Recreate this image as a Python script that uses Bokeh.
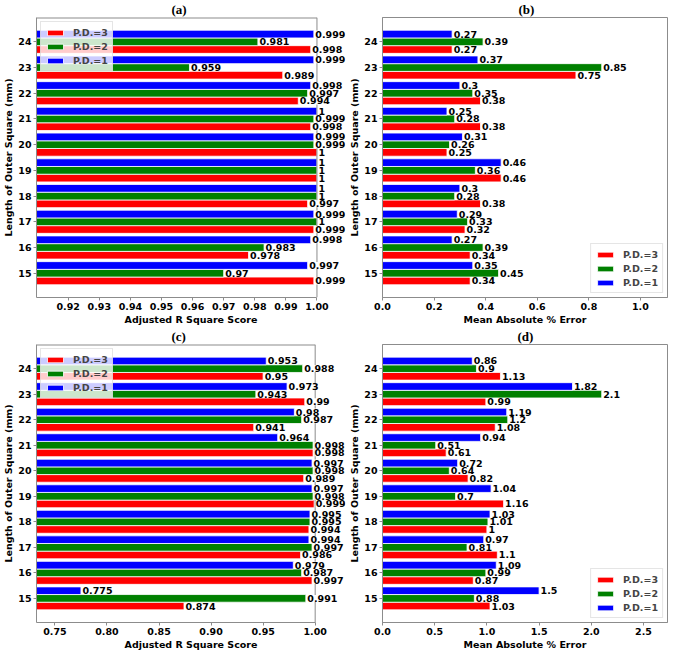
from bokeh.plotting import figure
from bokeh.models import (ColumnDataSource, Range1d, FixedTicker, LabelSet,
                          Legend, LegendItem, NumeralTickFormatter)
from bokeh.core.properties import value
from bokeh.layouts import column, row
from bokeh.embed import file_html
from bokeh.resources import INLINE

# ---------------- data ----------------
categories = [15, 16, 17, 18, 19, 20, 21, 22, 23, 24]
series_names = ["P.D.=3", "P.D.=2", "P.D.=1"]
series_colors = ["#ff0000", "#008000", "#0000ff"]

# (a) Adjusted R Square Score
a_pd3 = [0.999, 0.978, 0.999, 0.997, 1, 1, 0.998, 0.994, 0.989, 0.998]
a_pd2 = [0.97, 0.983, 1, 1, 1, 0.999, 0.999, 0.997, 0.959, 0.981]
a_pd1 = [0.997, 0.998, 0.999, 1, 1, 0.999, 1, 0.998, 0.999, 0.999]

# (b) Mean Absolute % Error
b_pd3 = [0.34, 0.34, 0.32, 0.38, 0.46, 0.25, 0.38, 0.38, 0.75, 0.27]
b_pd2 = [0.45, 0.39, 0.33, 0.28, 0.36, 0.26, 0.28, 0.35, 0.85, 0.39]
b_pd1 = [0.35, 0.27, 0.29, 0.3, 0.46, 0.31, 0.25, 0.3, 0.37, 0.27]

# (c) Adjusted R Square Score
c_pd3 = [0.874, 0.997, 0.986, 0.994, 0.999, 0.989, 0.998, 0.941, 0.99, 0.95]
c_pd2 = [0.991, 0.987, 0.997, 0.995, 0.998, 0.998, 0.998, 0.987, 0.943, 0.988]
c_pd1 = [0.775, 0.979, 0.994, 0.995, 0.997, 0.997, 0.964, 0.98, 0.973, 0.953]

# (d) Mean Absolute % Error
d_pd3 = [1.03, 0.87, 1.1, 1, 1.16, 0.82, 0.61, 1.08, 0.99, 1.13]
d_pd2 = [0.88, 0.99, 0.81, 1.01, 0.7, 0.64, 0.51, 1.2, 2.1, 0.9]
d_pd1 = [1.5, 1.09, 0.97, 1.03, 1.04, 0.72, 0.94, 1.19, 1.82, 0.86]

x_ticks_a = [0.92, 0.93, 0.94, 0.95, 0.96, 0.97, 0.98, 0.99, 1.00]
x_ticks_b = [0.0, 0.2, 0.4, 0.6, 0.8, 1.0]
x_ticks_c = [0.75, 0.80, 0.85, 0.90, 0.95, 1.00]
x_ticks_d = [0.0, 0.5, 1.0, 1.5, 2.0, 2.5]

FONT = "DejaVu Sans"
FS = "9.5px"
GRAY = "#8c8c8c"
BAR_H = 0.3
Y0, Y1 = 14.055, 24.945


def make_panel(title, series, xr, xticks, xfmt, xlabel, legend_loc,
               width, height, bl, br, bt, bb, extra_px=0):
    x0, x1 = xr
    frame_px = width - bl - br
    vis_px = frame_px - extra_px
    x_end = x0 + (x1 - x0) * frame_px / vis_px  # room for labels beyond the axes box
    p = figure(width=width, height=height, output_backend="svg", toolbar_location=None,
               x_range=Range1d(x0, x_end), y_range=Range1d(Y0, Y1),
               min_border_left=bl, min_border_right=br, min_border_top=bt,
               min_border_bottom=bb)
    p.background_fill_color = "white"
    p.border_fill_color = "white"
    p.xgrid.visible = False
    p.ygrid.visible = False

    items = []
    label_sources = []
    offsets = [-BAR_H, 0.0, BAR_H]
    for vals, name, col, off in zip(series, series_names, series_colors, offsets):
        ys = [c + off for c in categories]
        src = ColumnDataSource(dict(y=ys, right=vals, left=[0] * len(vals),
                                    text=[f"{v:g}" for v in vals]))
        r = p.hbar(y="y", left="left", right="right", height=BAR_H, source=src,
                   fill_color=col, line_color="white", line_width=0.8)
        items.append(LegendItem(label=name, renderers=[r]))
        label_sources.append(src)

    # axes box
    if extra_px > 0:
        p.outline_line_color = None
        p.segment(x0=[x0], y0=[Y1], x1=[x1], y1=[Y1], line_color=GRAY, line_width=2)
        p.segment(x0=[x1], y0=[Y0], x1=[x1], y1=[Y1], line_color=GRAY, line_width=1)
        p.xaxis.bounds = (x0, x1)
    else:
        p.outline_line_color = GRAY
        p.outline_line_width = 1

    for src in label_sources:
        ls = LabelSet(x="right", y="y", text="text", source=src, x_offset=1.5,
                      text_baseline="middle", text_align="left",
                      text_font=value(FONT), text_font_size=value(FS),
                      text_font_style=value("bold"),
                      text_color="black", background_fill_color="white")
        p.add_layout(ls)

    leg = Legend(items=items, location=legend_loc, margin=4, padding=4, spacing=2,
                 glyph_width=20, glyph_height=7, label_height=12, label_standoff=8,
                 label_text_font=FONT, label_text_font_size=FS,
                 label_text_font_style="bold", border_line_color="#cccccc",
                 border_line_width=1, background_fill_color="white",
                 background_fill_alpha=0.8)
    p.add_layout(leg)

    # axes
    p.xaxis.ticker = FixedTicker(ticks=xticks)
    p.xaxis.formatter = NumeralTickFormatter(format=xfmt)
    p.yaxis.ticker = FixedTicker(ticks=categories)
    for ax in (p.xaxis[0], p.yaxis[0]):
        ax.axis_line_color = GRAY
        ax.major_tick_line_color = GRAY
        ax.minor_tick_line_color = None
        ax.major_tick_in = 0
        ax.major_tick_out = 3
        ax.major_label_standoff = 2
        ax.axis_label_standoff = 1
        ax.major_label_text_font = FONT
        ax.major_label_text_font_size = FS
        ax.major_label_text_font_style = "bold"
        ax.major_label_text_color = "black"
        ax.axis_label_text_font = FONT
        ax.axis_label_text_font_size = FS
        ax.axis_label_text_font_style = "bold"
        ax.axis_label_text_color = "black"
    p.xaxis.axis_label = xlabel
    p.yaxis.axis_label = "Length of Outer Square (mm)"

    p.title.text = title
    p.title.align = "left"
    p.title.offset = vis_px / 2 - 7.5
    p.title.text_font = "Liberation Serif"
    p.title.text_font_size = "13px"
    p.title.text_font_style = "bold"
    p.title.text_color = "black"
    p.title.standoff = 0
    p.title.vertical_align = "middle"
    return p


pa = make_panel("(a)", [a_pd3, a_pd2, a_pd1], (0.9098, 1.0), x_ticks_a, "0.00",
                "Adjusted R Square Score", "top_left", 346, 327, 31, 1, 17, 30, extra_px=29)
pb = make_panel("(b)", [b_pd3, b_pd2, b_pd1], (0.0, 1.105), x_ticks_b, "0.0",
                "Mean Absolute % Error", "bottom_right", 323, 327, 34, 2, 17, 30)
pc = make_panel("(c)", [c_pd3, c_pd2, c_pd1], (0.7323, 1.0), x_ticks_c, "0.00",
                "Adjusted R Square Score", "top_left", 346, 325, 29, 1, 17, 29, extra_px=31)
pd_ = make_panel("(d)", [d_pd3, d_pd2, d_pd1], (0.0, 2.73), x_ticks_d, "0.0",
                 "Mean Absolute % Error", "bottom_right", 323, 325, 36, 2, 17, 29)

layout = column(row(pa, pb), row(pc, pd_))
open("out.html", "w").write(file_html(layout, INLINE))
